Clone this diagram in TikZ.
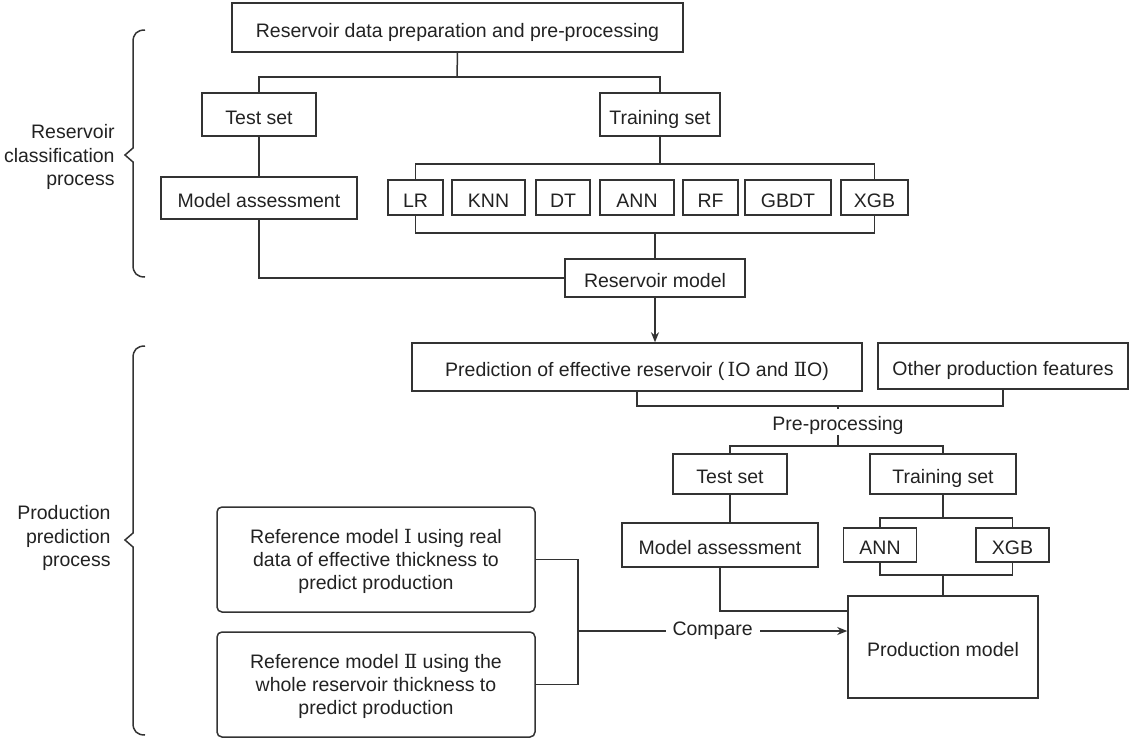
\documentclass[tikz,border=0pt]{standalone}
\usepackage{fontspec}
\setmainfont{Liberation Sans}
\newfontfamily\romfont{DejaVu Serif}
\usetikzlibrary{arrows.meta}
\definecolor{ln}{HTML}{333333}
\definecolor{tx}{HTML}{222222}
\newcommand{\rom}[1]{{\romfont #1}}
\begin{document}
\begin{tikzpicture}[x=0.5pt,y=-0.5pt,
  font=\fontsize{9.75pt}{11.6pt}\selectfont,
  box/.style={draw=ln, line width=0.75pt, text=tx, inner sep=0pt, align=center},
  sbox/.style={box, text height=9.5pt, text depth=0pt},
  rbox/.style={box, rounded corners=2.5pt},
  sz/.style 2 args={minimum width=#1*0.5pt, minimum height=#2*0.5pt},
  con/.style={draw=ln, line width=0.75pt},
  arr/.style={con, -{Stealth[length=5pt,width=4pt]}},
  lbl/.style={text=tx, align=right, anchor=east, inner sep=0pt}]
\useasboundingbox (0,0) rectangle (1137,740);

% --- Reservoir classification process ---
\node[sbox,sz={451}{49}] (top) at (457.5,27.5) {Reservoir data preparation and pre-processing};
\node[sbox,sz={114}{43}] (test1) at (259,114.5) {Test set};
\node[sbox,sz={120}{43}] (train1) at (660,114.5) {Training set};
\node[sbox,sz={196}{42}] (ma1) at (259,198) {Model assessment};
\node[sbox,sz={55}{35}] (lr) at (415.5,197.5) {LR};
\node[sbox,sz={73}{35}] (knn) at (488.5,197.5) {KNN};
\node[sbox,sz={54}{35}] (dt) at (563,197.5) {DT};
\node[sbox,sz={74}{35}] (ann) at (637,197.5) {ANN};
\node[sbox,sz={55}{35}] (rf) at (710.5,197.5) {RF};
\node[sbox,sz={86}{35}] (gbdt) at (788,197.5) {GBDT};
\node[sbox,sz={67}{35}] (xgb) at (874.5,197.5) {XGB};
\node[sbox,sz={180}{38}] (rm) at (655,278) {Reservoir model};

\coordinate (j1) at (457,77);
\coordinate (j2) at (660,164);
\coordinate (j3) at (655,233);
\draw[con] (top.south) -- (j1);
\draw[con] (test1.north) |- (j1) -| (train1.north);
\draw[con] (test1.south) -- (ma1.north);
\draw[con] (train1.south) -- (j2);
\draw[con] (lr.north) |- (j2) -| (xgb.north);
\draw[con] (lr.south) |- (j3) -| (xgb.south);
\draw[con] (j3) -- (rm.north);
\draw[con] (ma1.south) |- (rm.west);

% --- Production prediction process ---
\node[sbox,sz={450}{48}] (pred) at (637,367) {Prediction of effective reservoir (\,\rom{Ⅰ}O and \rom{Ⅱ}O)};
\node[sbox,sz={250}{46}] (other) at (1003,366) {Other production features};
\node[text=tx, inner sep=2pt, text height=8.5pt, text depth=0pt] (pre) at (838,422) {Pre-processing};
\node[sbox,sz={114}{40}] (test2) at (730,474) {Test set};
\node[sbox,sz={146}{40}] (train2) at (943,474) {Training set};
\node[sbox,sz={196}{44}] (ma2) at (720,545) {Model assessment};
\node[sbox,sz={73}{34}] (ann2) at (880,545) {ANN};
\node[sbox,sz={73}{34}] (xgb2) at (1012.5,545) {XGB};
\node[sbox,sz={190}{102}] (prod) at (943,647) {Production model};
\node[rbox,sz={318}{105}] (ref1) at (376,559.5) {\rule{0pt}{9pt}Reference model \rom{Ⅰ} using real\\data of effective thickness to\\predict production};
\node[rbox,sz={318}{105}] (ref2) at (376,684.5) {\rule{0pt}{9pt}Reference model \rom{Ⅱ} using the\\whole reservoir thickness to\\predict production};

\draw[arr] (rm.south) -- (pred.north -| rm.south);
\coordinate (j4) at (838,406);
\coordinate (j5) at (838,446);
\coordinate (j6) at (943,518);
\coordinate (j7) at (943,575);
\coordinate (j9) at (578,631);
\draw[con] (pred.south) |- (j4) -| (other.south);
\draw[con] (j4) -- (pre.north);
\draw[con] (pre.south) -- (j5);
\draw[con] (test2.north) |- (j5) -| (train2.north);
\draw[con] (test2.south) -- (test2.south |- ma2.north);
\draw[con] (train2.south) -- (j6);
\draw[con] (ann2.north) |- (j6) -| (xgb2.north);
\draw[con] (ann2.south) |- (j7) -| (xgb2.south);
\draw[con] (j7) -- (prod.north);
\draw[con] (ma2.south) |- ([yshift=18pt]prod.west);
\draw[con] (ref1.east) -| (j9);
\draw[con] (ref2.east) -| (j9);
\draw[arr] (j9) -- node[fill=white, text=tx, inner xsep=3.5pt, inner ysep=1pt] (cmp) {Compare} (j9 -| prod.west);

% --- braces and labels ---
\draw[con] (145,30) .. controls (137,30) and (133,34) .. (133,42) -- (133,148) -- (125,155) -- (133,162) -- (133,265) .. controls (133,273) and (137,277) .. (145,277);
\draw[con] (145,346) .. controls (137,346) and (133,350) .. (133,358) -- (133,533) -- (125,540) -- (133,547) -- (133,723) .. controls (133,731) and (137,735) .. (145,735);
\node[lbl] (lab1) at (115,157) {Reservoir\\classification\\process};
\node[lbl] (lab2) at (111,538) {Production\\prediction\\process};
\end{tikzpicture}
\end{document}
